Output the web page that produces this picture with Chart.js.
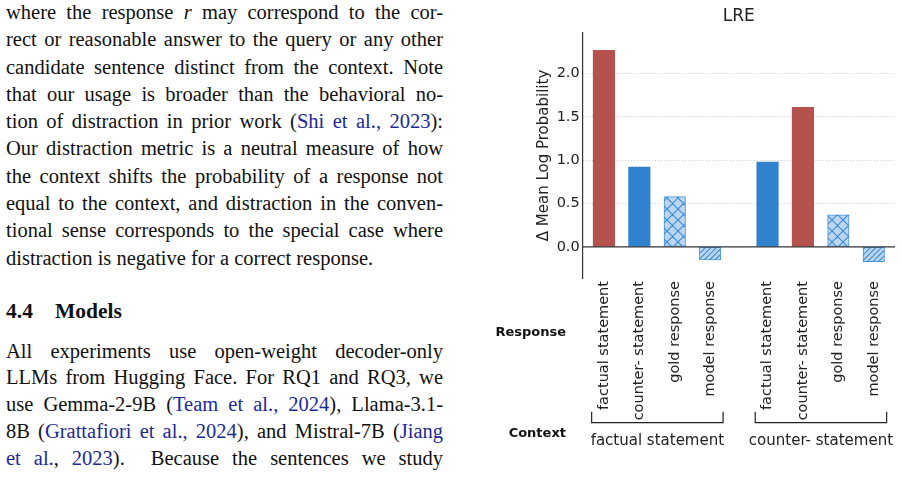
<!DOCTYPE html>
<html>
<head>
<meta charset="utf-8">
<script src="https://cdn.jsdelivr.net/npm/chart.js@4.4.1/dist/chart.umd.min.js"></script>
<style>
  body { margin: 0; width: 901px; height: 477px; background: #fff; overflow: hidden; position: relative; }
  .txt { position: absolute; left: 6px; width: 437px; font-family: "Liberation Serif", "Times New Roman", serif; font-size: 20.5px; color: #111; }
  .txt div { text-align: justify; text-align-last: justify; word-spacing: -3px; }
  .txt div.last { text-align: left; text-align-last: left; word-spacing: 0; }
  .txt a { color: #1c2a96; text-decoration: none; }
  #p1 { top: -1px; line-height: 27.3px; }
  #h44 { top: 297.5px; line-height: 26px; font-size: 21.5px; font-weight: bold; }
  #p2 { top: 337.5px; line-height: 26.9px; }
  #wrap { position: absolute; left: 480px; top: 0; width: 421px; height: 477px; }
</style>
</head>
<body>
<div class="txt" id="p1">
  <div>where the response <i>r</i> may correspond to the cor-</div>
  <div>rect or reasonable answer to the query or any other</div>
  <div>candidate sentence distinct from the context. Note</div>
  <div>that our usage is broader than the behavioral no-</div>
  <div>tion of distraction in prior work (<a>Shi et al., 2023</a>):</div>
  <div>Our distraction metric is a neutral measure of how</div>
  <div>the context shifts the probability of a response not</div>
  <div>equal to the context, and distraction in the conven-</div>
  <div>tional sense corresponds to the special case where</div>
  <div class="last">distraction is negative for a correct response.</div>
</div>
<div class="txt" id="h44"><span>4.4</span><span style="margin-left:22px">Models</span></div>
<div class="txt" id="p2">
  <div>All experiments use open-weight decoder-only</div>
  <div>LLMs from Hugging Face. For RQ1 and RQ3, we</div>
  <div>use Gemma-2-9B (<a>Team et al., 2024</a>), Llama-3.1-</div>
  <div>8B (<a>Grattafiori et al., 2024</a>), and Mistral-7B (<a>Jiang</a></div>
  <div><a>et al.</a>, <a>2023</a>).&nbsp; Because the sentences we study</div>
</div>
<div id="wrap"><canvas id="lre" width="421" height="477"></canvas></div>
<script>
// data
const responses = ['factual statement', 'counter- statement', 'gold response', 'model response',
                   'factual statement', 'counter- statement', 'gold response', 'model response'];
const contexts = ['factual statement', 'counter- statement'];
const groupOf = [0, 0, 0, 0, 1, 1, 1, 1];
const xPos = [0, 1, 2, 3, 4.62, 5.62, 6.62, 7.62];
const deltas = [2.27, 0.92, 0.58, -0.15, 0.98, 1.61, 0.37, -0.17];
const yTicks = [0, 0.5, 1.0, 1.5, 2.0];

const RED = 'rgb(181, 82, 77)';
const BLUE = 'rgb(49, 130, 206)';
const HATCH_EDGE = 'rgb(70, 148, 218)';
const FONT = 'DejaVu Sans';

function hatch(kind) {
  const s = 11;
  const c = document.createElement('canvas');
  c.width = c.height = s;
  const g = c.getContext('2d');
  g.fillStyle = 'rgb(188, 214, 241)';
  g.fillRect(0, 0, s, s);
  g.strokeStyle = 'rgb(58, 138, 214)';
  g.lineWidth = 1.1;
  g.beginPath();
  if (kind === 'x') {
    for (const k of [-s, 0, s]) {
      g.moveTo(k, s); g.lineTo(k + s, 0);
      g.moveTo(k, 0); g.lineTo(k + s, s);
    }
  } else {
    for (const k of [-s, -s / 2, 0, s / 2, s]) {
      g.moveTo(k, s); g.lineTo(k + s, 0);
    }
  }
  g.stroke();
  return g.createPattern(c, 'repeat');
}

const cross = hatch('x'), diag = hatch('/');
const fills = [RED, BLUE, cross, diag, BLUE, RED, cross, diag];
const edges = [RED, BLUE, HATCH_EDGE, HATCH_EDGE, BLUE, RED, HATCH_EDGE, HATCH_EDGE];
const edgeW = [0, 0, 1, 1, 0, 0, 1, 1];

const decor = {
  id: 'decor',
  afterDatasetsDraw(chart) {
    const {ctx, chartArea: a, scales: {y}} = chart;
    const y0 = y.getPixelForValue(0);
    ctx.save();
    ctx.strokeStyle = '#333';
    ctx.lineWidth = 1.3;
    ctx.beginPath();
    ctx.moveTo(a.left, y0);
    ctx.lineTo(a.right, y0);
    ctx.stroke();
    ctx.restore();
  },
  afterDraw(chart) {
    const {ctx, scales: {x}} = chart;
    ctx.save();
    ctx.strokeStyle = '#222';
    ctx.lineWidth = 1.2;
    ctx.fillStyle = '#222';
    ctx.font = '15px "' + FONT + '"';
    ctx.textAlign = 'center';
    ctx.textBaseline = 'alphabetic';
    contexts.forEach((name, gi) => {
      const idx = groupOf.map((v, i) => v === gi ? i : -1).filter(i => i >= 0);
      const x1 = x.getPixelForValue(xPos[idx[0]]) - 12.3;
      const x2 = x.getPixelForValue(xPos[idx[idx.length - 1]]) + 12.9;
      ctx.beginPath();
      ctx.moveTo(x1, 411.7);
      ctx.lineTo(x1, 422.7);
      ctx.lineTo(x2, 422.7);
      ctx.lineTo(x2, 411.7);
      ctx.stroke();
      ctx.fillText(name, (x1 + x2) / 2, 445);
    });
    ctx.fillStyle = '#111';
    ctx.font = 'bold 13px "' + FONT + '"';
    ctx.textAlign = 'right';
    ctx.fillText('Response', 86, 336);
    ctx.fillText('Context', 86, 436.7);
    ctx.restore();
  }
};

new Chart(document.getElementById('lre'), {
  type: 'bar',
  data: {
    datasets: [{
      data: xPos.map((v, i) => ({x: v, y: deltas[i]})),
      backgroundColor: fills,
      borderColor: edges,
      borderWidth: edgeW,
      borderSkipped: false,
      barThickness: 21.5
    }]
  },
  options: {
    responsive: false,
    animation: false,
    layout: {padding: {left: 50, right: 6, top: 0, bottom: 0}},
    plugins: {
      legend: {display: false},
      tooltip: {enabled: false},
      title: {
        display: true,
        fullSize: false,
        text: 'LRE',
        color: '#222',
        font: {family: FONT, size: 17, weight: 'normal', lineHeight: 1.2},
        padding: {top: 6, bottom: 6.6}
      }
    },
    scales: {
      x: {
        type: 'linear',
        min: -0.6,
        max: 8.22,
        offset: false,
        bounds: 'data',
        grid: {display: false, drawTicks: false},
        border: {display: false},
        afterBuildTicks: s => { s.ticks = xPos.map(v => ({value: v})); },
        afterFit: s => { s.height = 199; },
        ticks: {
          autoSkip: false,
          minRotation: 90,
          maxRotation: 90,
          padding: 3,
          color: '#222',
          font: {family: FONT, size: 14.5},
          callback: (v, i) => responses[i]
        }
      },
      y: {
        min: -0.36,
        max: 2.47,
        afterBuildTicks: s => { s.ticks = yTicks.map(v => ({value: v})); },
        afterFit: s => { s.width = 52.7; },
        grid: {
          drawTicks: false,
          color: c => c.tick && c.tick.value === 0 ? 'rgba(0,0,0,0)' : '#c9c9c9',
          lineWidth: 1
        },
        border: {display: true, color: '#333', width: 1.2, dash: [1, 2]},
        ticks: {
          padding: 3,
          color: '#222',
          font: {family: FONT, size: 14.5},
          callback: v => v.toFixed(1)
        },
        title: {
          display: true,
          text: 'Δ Mean Log Probability',
          color: '#222',
          font: {family: FONT, size: 15, lineHeight: 1.2},
          padding: {top: 5, bottom: 0}
        }
      }
    }
  },
  plugins: [decor]
});
</script>
</body>
</html>
